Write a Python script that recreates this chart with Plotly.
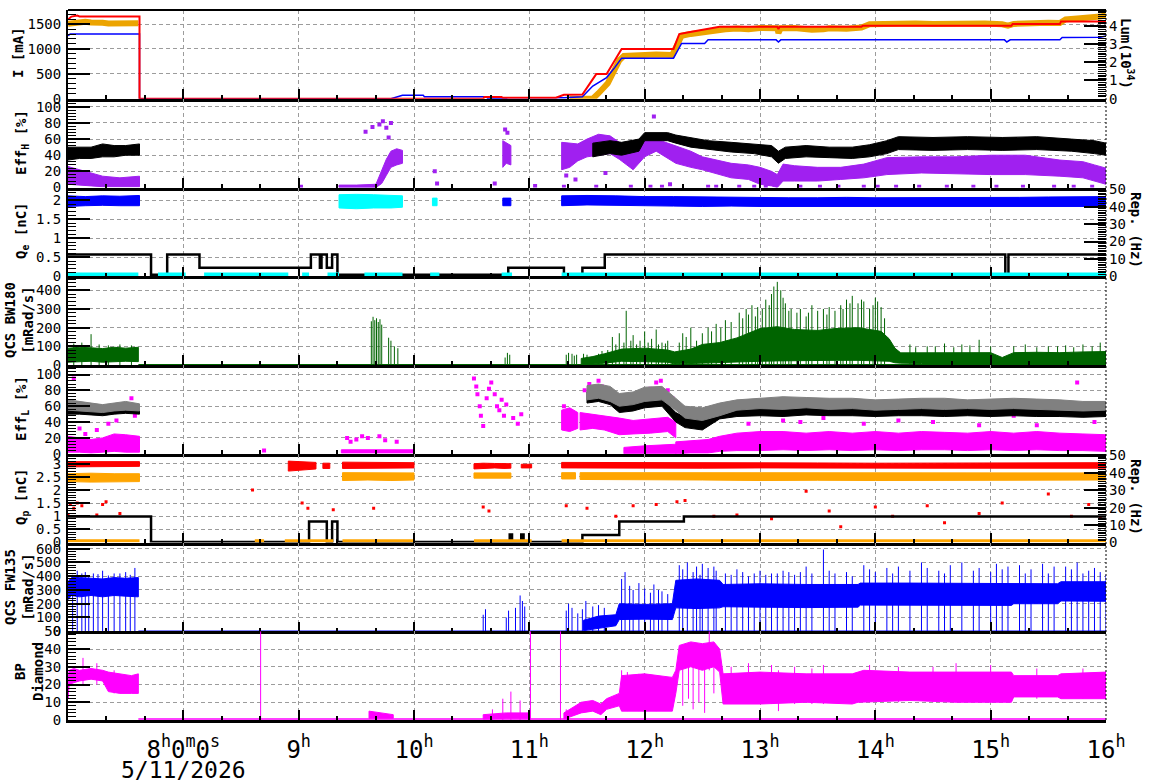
import plotly.graph_objects as go

# ---------------- DATA (time in decimal hours, 5/11/2026) ----------------
# Panel 1: beam currents [mA] and luminosity [1e34]
cur_red_t = [7.00, 7.03, 7.08, 7.10, 7.62, 7.62, 10.60, 10.61, 10.76, 10.77, 11.23, 11.30, 11.46, 11.58, 11.67, 11.80,
             12.25, 12.30, 12.37, 12.45, 12.52, 12.65, 13.15, 13.16, 13.17, 13.88, 13.89, 15.18, 15.19, 15.60, 15.61, 16.00]
cur_red_v = [1590, 1650, 1670, 1652, 1650, 0, 0, 34, 34, 20, 20, 80, 85, 495, 495, 1000,
             1000, 1300, 1330, 1365, 1400, 1445, 1445, 1400, 1445, 1445, 1466, 1466, 1500, 1500, 1553, 1553]
cur_blue_t = [7.00, 7.01, 7.02, 7.62, 7.62, 9.80, 9.90, 10.08, 10.09, 10.63, 10.64, 10.80, 10.81, 11.30, 11.46, 11.55,
              11.67, 11.74, 11.80, 12.25, 12.32, 12.52, 12.55, 13.14, 13.16, 13.18, 15.12, 15.14, 15.17, 15.60, 15.62,
              15.95, 16.00]
cur_blue_v = [1270, 1280, 1300, 1300, 0, 0, 68, 68, 40, 40, 0, 0, 20, 20, 40, 255,
              425, 625, 815, 815, 1110, 1110, 1183, 1183, 1140, 1183, 1183, 1140, 1183, 1183, 1230,
              1235, 1262]
lum_t = [7.00, 7.05, 7.10, 7.15, 7.20, 7.25, 7.30, 7.35, 7.40, 7.45, 7.50, 7.55, 7.61, None,
         11.35, 11.55, 11.60, 11.64, 11.68, 11.72, 11.75, 11.78, 11.82, 11.90, 12.00, 12.10, 12.24, 12.28, 12.32,
         12.40, 12.50, 12.60, 12.70, 12.80, 12.90, 13.00, 13.10, 13.15, 13.16, 13.18, 13.30, 13.45, 13.55, 13.60,
         13.75, 13.88, 13.95, 14.05, 14.20, 14.35, 14.50, 14.65, 14.80, 14.95, 15.10, 15.15, 15.20, 15.35, 15.50,
         15.60, 15.65, 15.75, 15.85, 15.95, 16.00]
lum_v = [4.10, 4.14, 4.20, 4.22, 4.18, 4.20, 4.16, 4.12, 4.13, 4.17, 4.15, 4.12, 4.13, None,
         0.0, 0.0, 0.30, 0.57, 0.85, 1.35, 1.75, 2.10, 2.35, 2.38, 2.40, 2.42, 2.40, 3.00, 3.45,
         3.55, 3.65, 3.72, 3.80, 3.85, 3.80, 3.87, 3.82, 3.86, 3.60, 3.86, 3.88, 3.78, 3.80, 3.86,
         3.84, 3.90, 4.08, 4.10, 4.14, 4.12, 4.10, 4.13, 4.10, 4.12, 4.08, 4.00, 4.10, 4.15, 4.16,
         4.15, 4.35, 4.40, 4.42, 4.50, 4.58]

# Panel 2: EffH [%]
effh_blk_t = [7.00, 7.10, 7.20, 7.30, 7.40, 7.50, 7.62, None,
              11.55, 11.70, 11.80, 11.95, 12.00, 12.20, 12.27, 12.40, 12.55, 12.75, 12.95, 13.10, 13.16, 13.22,
              13.40, 13.60, 13.80, 13.95, 14.10, 14.20, 14.50, 14.80, 15.10, 15.40, 15.70, 15.90, 16.00]
effh_blk_lo = [34, 36, 36, 38, 38, 40, 40, None,
               38, 42, 40, 45, 58, 58, 55, 50, 47, 44, 42, 38, 30, 36,
               38, 37, 36, 38, 42, 47, 46, 47, 46, 47, 45, 42, 40]
effh_blk_hi = [50, 50, 50, 54, 52, 52, 54, None,
               55, 58, 56, 60, 68, 68, 65, 62, 58, 56, 54, 52, 45, 50,
               52, 50, 50, 53, 58, 63, 62, 63, 62, 63, 60, 58, 55]
effh_pur_t = [7.00, 7.10, 7.20, 7.30, 7.45, 7.62, None,
              9.35, 9.50, 9.67, 9.72, 9.76, 9.80, 9.85, 9.90, None,
              10.77, 10.80, 10.84, None,
              11.28, 11.35, 11.42, 11.50, 11.60, 11.70, 11.78, 11.90, 12.00, 12.10, 12.27, 12.40, 12.50, 12.65,
              12.75, 12.90, 13.00, 13.10, 13.15, 13.20, 13.30, 13.50, 13.70, 13.90, 14.10, 14.40, 14.70, 15.00,
              15.30, 15.60, 15.80, 15.90, 16.00]
effh_pur_lo = [4, 3, 2, 1, 1, 1, None,
               0, 0, 0, 5, 15, 25, 28, 30, None,
               25, 30, 28, None,
               22, 25, 33, 38, 40, 42, 35, 22, 38, 45, 30, 25, 22, 16,
               12, 10, 4, 2, 0, 8, 8, 8, 10, 12, 16, 18, 17, 16,
               16, 14, 12, 8, 4]
effh_pur_hi = [26, 22, 18, 14, 12, 14, None,
               3, 3, 4, 20, 35, 45, 48, 46, None,
               58, 55, 52, None,
               56, 55, 54, 60, 66, 64, 56, 50, 58, 60, 52, 45, 38, 33,
               30, 28, 25, 20, 16, 29, 27, 25, 25, 29, 37, 38, 38, 40,
               40, 34, 32, 28, 24]
effh_pur_sc_t = [9.58, 9.64, 9.70, 9.73, 9.76, 9.78, 9.80, 10.18, 10.20, 10.70, 10.79, 10.81, 11.32, 11.40, 11.66,
                 12.08, 12.18, 12.22, 11.05, 9.02, 11.30, 11.58, 11.88, 12.05, 12.15, 12.55, 12.62, 12.82, 12.95,
                 13.05, 13.35, 13.52, 13.68, 13.90, 14.02, 14.18, 14.38, 14.62, 14.85, 15.05, 15.28, 15.55, 15.72,
                 15.88]
effh_pur_sc_v = [69, 75, 78, 82, 74, 62, 80, 20, 5, 5, 72, 68, 15, 10, 18,
                 88, 60, 4, 2, 1, 1, 1, 1, 1, 1, 1, 1, 1, 1,
                 1, 1, 1, 1, 1, 1, 1, 1, 1, 1, 1, 1, 1, 1,
                 1]

# Panel 3: Qe [nC] and repetition rate [Hz]
qe_blue_t = [7.00, 7.15, 7.30, 7.45, 7.62, None, 10.77, 10.84, None,
             11.28, 11.50, 11.75, 12.00, 12.25, 12.50, 12.75, 13.00, 13.25, 13.50, 13.75, 14.00, 14.25, 14.50,
             14.75, 15.00, 15.25, 15.50, 15.75, 16.00]
qe_blue_lo = [1.84, 1.86, 1.87, 1.86, 1.86, None, 1.86, 1.86, None,
              1.86, 1.88, 1.87, 1.86, 1.85, 1.84, 1.85, 1.84, 1.84, 1.83, 1.84, 1.83, 1.84, 1.84,
              1.83, 1.84, 1.84, 1.83, 1.84, 1.84]
qe_blue_hi = [2.12, 2.10, 2.12, 2.11, 2.13, None, 2.06, 2.06, None,
              2.12, 2.13, 2.12, 2.10, 2.10, 2.09, 2.08, 2.08, 2.07, 2.07, 2.08, 2.07, 2.07, 2.08,
              2.07, 2.08, 2.08, 2.09, 2.09, 2.10]
qe_cyan_t = [9.35, 9.50, 9.65, 9.80, 9.90, None, 10.16, 10.20]
qe_cyan_lo = [1.80, 1.78, 1.80, 1.80, 1.82, None, 1.86, 1.86]
qe_cyan_hi = [2.15, 2.16, 2.15, 2.14, 2.12, None, 2.06, 2.06]
# low-level cyan trace, read on the Rep. axis [Hz]
rep_cyan_t = [7.00, 7.61, None, 7.78, 8.02, None, 8.18, 8.91, None, 9.03, 9.09, None, 9.25, 9.35, None,
              9.57, 9.90, None, 10.14, 10.22, None, 10.76, 10.85, None, 11.28, 16.00]
rep_cyan_v = [1.0, 1.0, None, 1.0, 1.0, None, 1.0, 1.0, None, 1.0, 1.0, None, 1.0, 1.0, None,
              1.0, 1.0, None, 1.0, 1.0, None, 1.0, 1.0, None, 1.0, 1.0]
rep_e_t = [7.0, 7.72, 7.86, 8.14, 9.106, 9.184, 9.198, 9.244, 9.29, 9.336, 10.817, 11.3, 11.46, 11.654, 15.127,
           15.154, 16.0]
rep_e_v = [12.5, 0.8, 12.5, 4.9, 12.5, 4.9, 12.5, 4.9, 12.5, 0.8, 4.9, 0.8, 4.9, 12.5, 0.8,
           12.5, 12.5]

# Panel 4: QCS BW180 [mRad/s]
bw_t = [7.00, 7.10, 7.20, 7.30, 7.40, 7.50, 7.61, None,
        11.45, 11.55, 11.65, 11.80, 12.00, 12.20, 12.26, 12.40, 12.50, 12.65, 12.80, 12.90, 13.00, 13.15, 13.30,
        13.50, 13.65, 13.85, 14.05, 14.12, 14.17, 14.22, 14.40, 14.60, 14.80, 15.00, 15.10, 15.20, 15.40, 15.60,
        15.80, 16.00]
bw_lo = [15, 18, 20, 15, 18, 20, 18, None,
         2, 5, 10, 20, 18, 15, 5, 8, 10, 12, 15, 18, 20, 22, 25,
         25, 25, 25, 22, 20, 12, 10, 8, 8, 8, 8, 5, 8, 8, 8,
         8, 8]
bw_hi = [90, 95, 92, 88, 95, 90, 95, None,
         35, 45, 60, 85, 90, 80, 70, 85, 110, 120, 145, 170, 195, 205, 190,
         185, 195, 200, 180, 140, 90, 65, 65, 66, 68, 66, 40, 66, 68, 66,
         70, 72]
bw_sp_t = [7.05, 7.12, 7.20, 7.27, 7.35, 7.45, 7.55,
           9.63, 9.645, 9.66, 9.675, 9.69, 9.705, 9.72, 9.78, 9.80, 9.83, 9.86,
           10.79, 10.81, 10.83,
           11.32, 11.34, 11.37, 11.39, 11.41,
           11.47, 11.50, 11.55, 11.60, 11.63,
           11.72, 11.78, 11.84, 11.90, 11.96, 12.00, 12.06, 12.10, 12.15, 12.20,
           12.33, 12.40, 12.45,
           12.55, 12.62, 12.70, 12.75,
           12.82, 12.88, 12.93, 12.98,
           13.05, 13.10, 13.15, 13.18, 13.22, 13.27,
           13.35, 13.40, 13.45, 13.50, 13.60,
           13.70, 13.75, 13.80, 13.85, 13.90, 13.95, 14.00, 14.05,
           14.30, 14.45, 14.60, 14.75, 14.90, 15.00,
           15.30, 15.50, 15.65, 15.80, 15.95]
bw_sp_v = [115, 120, 165, 110, 105, 110, 105,
           234, 258, 240, 250, 230, 245, 216, 146, 130, 100, 90,
           40, 65, 55,
           55, 65, 60, 50, 55,
           60, 55, 45, 60, 75,
           150, 170, 290, 160, 130, 180, 140, 190, 120, 130,
           170, 200, 130,
           200, 220, 240, 230,
           280, 300, 320, 310,
           350, 380, 445, 400, 330, 300,
           300, 260, 320, 290, 310,
           320, 350, 370, 330, 340, 300, 360, 310,
           110, 100, 115, 110, 135, 100,
           110, 100, 105, 110, 120]
bw_sp2_t = [11.68, 11.75, 11.82, 11.88, 11.93, 12.03, 12.12, 12.18, 12.30, 12.36, 12.50, 12.58, 12.66, 12.85,
            12.90, 12.96, 13.02, 13.08, 13.12, 13.20, 13.25, 13.32, 13.42, 13.55, 13.58, 13.65, 13.72, 13.78,
            13.88, 13.98, 14.02, 14.08, 14.35, 14.52, 14.68, 14.82, 15.20, 15.40, 15.58, 15.72, 15.88]
bw_sp2_v = [80, 110, 120, 130, 110, 120, 110, 115, 120, 150, 170, 180, 200, 250,
            270, 260, 300, 320, 420, 360, 290, 280, 280, 300, 270, 290, 300, 330,
            350, 320, 340, 250, 95, 100, 95, 105, 100, 95, 100, 95, 100]
bw_base_t = [7.61, 16.0]
bw_base_v = [0, 0]

# Panel 5: EffL [%]
effl_t = [7.00, 7.10, 7.20, 7.30, 7.40, 7.50, 7.62, None,
          11.50, 11.60, 11.70, 11.78, 11.90, 12.00, 12.15, 12.27, 12.35, 12.50, 12.65, 12.80, 13.00, 13.20,
          13.40, 13.60, 13.80, 14.00, 14.20, 14.40, 14.60, 14.80, 15.00, 15.20, 15.40, 15.60, 15.80, 16.00]
effl_gry_lo = [55, 54, 53, 52, 54, 55, 54, None,
               68, 70, 66, 60, 62, 66, 68, 55, 45, 42, 48, 55, 57, 56,
               58, 56, 57, 55, 56, 57, 56, 57, 56, 57, 56, 55, 54, 55]
effl_gry_hi = [68, 66, 64, 62, 64, 66, 63, None,
               86, 88, 85, 76, 78, 84, 85, 70, 60, 58, 64, 68, 70, 72,
               71, 70, 70, 68, 69, 70, 70, 68, 69, 70, 69, 68, 66, 66]
effl_blk_lo = [50, 50, 49, 48, 50, 51, 50, None,
               64, 66, 62, 52, 54, 58, 60, 40, 33, 30, 44, 47, 48, 47,
               49, 48, 48, 47, 48, 48, 47, 48, 47, 48, 47, 47, 46, 47]
effl_blk_hi = [58, 58, 57, 56, 58, 60, 58, None,
               78, 80, 76, 64, 66, 70, 70, 52, 46, 44, 56, 58, 60, 59,
               61, 60, 60, 59, 60, 60, 59, 60, 59, 60, 59, 58, 57, 58]
effl_mag_t = [7.00, 7.10, 7.20, 7.30, 7.40, 7.50, 7.62, None,
              9.37, 9.60, 9.80, 10.00, None,
              11.28, 11.35, 11.42, None,
              11.44, 11.55, 11.65, 11.78, 11.90, 12.05, 12.20, 12.27, None,
              11.82, 12.00, 12.27, None,
              12.27, 12.40, 12.55, 12.65, 12.80, 13.00, 13.20, 13.40, 13.60, 13.80, 14.00, 14.20, 14.40, 14.60,
              14.80, 15.00, 15.20, 15.40, 15.60, 15.80, 16.00]
effl_mag_lo = [2, 2, 1, 2, 3, 2, 2, None,
               1, 1, 1, 1, None,
               30, 28, 32, None,
               30, 32, 30, 24, 25, 26, 28, 20, None,
               0, 0, 0, None,
               0, 1, 1, 3, 4, 4, 5, 4, 5, 4, 5, 4, 5, 5,
               4, 5, 4, 5, 4, 4, 3]
effl_mag_hi = [22, 20, 18, 20, 25, 24, 22, None,
               5, 5, 5, 5, None,
               55, 58, 52, None,
               52, 50, 48, 45, 42, 44, 46, 40, None,
               8, 10, 12, None,
               15, 16, 18, 22, 26, 28, 28, 26, 28, 26, 28, 26, 28, 27,
               26, 28, 26, 28, 26, 25, 24]
effl_mag_sc_t = [7.05, 7.10, 7.15, 7.25, 7.35, 7.42, 7.55, 7.58, 8.70,
                 9.42, 9.45, 9.50, 9.55, 9.60, 9.70, 9.75, 9.85,
                 10.52, 10.54, 10.55, 10.57, 10.58, 10.60, 10.63, 10.65, 10.67, 10.70, 10.72, 10.74, 10.76, 10.78,
                 10.80, 10.86, 10.90, 10.93,
                 11.30, 11.33, 11.38,
                 11.48, 11.52, 11.56, 11.60, 11.63, 11.66, 11.70,
                 12.00, 12.05, 12.10, 12.14, 12.20, 12.24,
                 12.60, 12.90, 13.20, 13.35, 13.55, 13.90, 14.20, 14.50, 14.90, 15.20, 15.40, 15.75, 15.90]
effl_mag_sc_v = [95, 32, 25, 30, 38, 42, 70, 48, 4,
                 20, 15, 18, 22, 20, 22, 17, 15,
                 95, 85, 75, 60, 48, 35, 70, 82, 90, 75, 60, 55, 68, 48,
                 62, 45, 38, 50,
                 60, 52, 45,
                 80, 88, 75, 92, 85, 78, 65,
                 70, 82, 90, 92, 80, 70,
                 45, 38, 42, 40, 45, 38, 42, 40, 36, 48, 36, 90, 40]

# Panel 6: Qp [nC] and repetition rate [Hz]
qp_red_t = [7.00, 7.20, 7.40, 7.62, None, 8.91, 9.00, 9.10, 9.15, None, 9.21, 9.27, None,
            9.38, 9.60, 9.80, 10.00, None, 10.52, 10.60, 10.70, 10.78, 10.84, None, 10.93, 11.02, None,
            11.28, 11.40, 11.60, 11.80, 12.00, 12.50, 13.00, 13.50, 14.00, 14.50, 15.00, 15.50, 16.00]
qp_red_lo = [2.88, 2.90, 2.89, 2.90, None, 2.72, 2.75, 2.78, 2.80, None, 2.82, 2.82, None,
             2.82, 2.84, 2.83, 2.84, None, 2.80, 2.82, 2.84, 2.82, 2.83, None, 2.84, 2.84, None,
             2.84, 2.84, 2.85, 2.84, 2.84, 2.83, 2.84, 2.83, 2.84, 2.83, 2.83, 2.84, 2.83]
qp_red_hi = [3.08, 3.08, 3.07, 3.08, None, 3.10, 3.08, 3.06, 3.05, None, 3.02, 3.02, None,
             3.06, 3.05, 3.05, 3.04, None, 3.00, 3.02, 3.01, 3.02, 3.00, None, 2.98, 2.98, None,
             3.05, 3.05, 3.04, 3.04, 3.03, 3.03, 3.04, 3.03, 3.02, 3.03, 3.03, 3.04, 3.04]
qp_org_t = [7.00, 7.20, 7.40, 7.62, None, 9.38, 9.60, 9.80, 10.00, None, 10.52, 10.84, None, 11.28, 11.40, None,
            11.44, 11.70, 12.00, 12.50, 13.00, 13.50, 14.00, 14.50, 15.00, 15.50, 16.00]
qp_org_lo = [2.32, 2.30, 2.30, 2.32, None, 2.36, 2.38, 2.36, 2.38, None, 2.45, 2.45, None, 2.42, 2.42, None,
             2.40, 2.40, 2.38, 2.38, 2.36, 2.37, 2.36, 2.37, 2.36, 2.37, 2.38]
qp_org_hi = [2.62, 2.64, 2.62, 2.62, None, 2.66, 2.66, 2.65, 2.65, None, 2.65, 2.65, None, 2.66, 2.66, None,
             2.66, 2.66, 2.65, 2.64, 2.64, 2.65, 2.64, 2.64, 2.65, 2.64, 2.65]
# low-level orange trace, read on the Rep. axis [Hz]
rep_org_t = [7.00, 7.62, None, 8.62, 8.70, None, 8.88, 9.30, None, 9.38, 10.00, None, 10.52, 11.02, None, 11.28, 16.00]
rep_org_v = [1.0, 1.0, None, 1.0, 1.0, None, 1.0, 1.0, None, 1.0, 1.0, None, 1.0, 1.0, None, 1.0, 1.0]
qp_rsc_t = [7.00, 7.02, 7.05, 7.08, 7.12, 7.25, 7.30, 7.33, 7.45, 8.60, 9.03, 9.08, 9.30, 9.65, 10.60, 10.65,
            11.32, 11.50, 11.75, 11.90, 12.10, 12.28, 12.35, 12.60, 12.80, 13.10, 13.40, 13.60, 13.70, 14.00,
            14.15, 14.45, 14.60, 14.90, 15.10, 15.50, 15.70, 15.85, 15.95]
qp_rsc_v = [1.05, 1.45, 1.30, 1.50, 1.40, 1.05, 1.45, 1.55, 1.10, 2.00, 1.50, 1.30, 1.25, 1.30, 1.35, 1.20,
            1.40, 1.30, 1.00, 1.40, 1.45, 1.55, 1.60, 1.00, 1.05, 0.90, 1.95, 1.20, 0.60, 1.35,
            1.00, 1.40, 0.75, 1.10, 1.50, 1.85, 1.00, 1.45, 0.95]
rep_p_t = [7.0, 7.72, 9.09, 9.244, 9.29, 9.336, 10.83, 10.85, 10.93, 10.95, 11.46, 11.78, 12.34, 16.0]
rep_p_v = [15, 0.3, 12, 0.3, 12, 0.3, 4.6, 0.3, 4.6, 0.3, 4.3, 12, 15, 15]

# Panel 7: QCS FW135 [mRad/s]
fw_t = [7.00, 7.03, 7.10, 7.20, 7.30, 7.40, 7.50, 7.61, None,
        11.47, 11.60, 11.75, 11.78, 12.00, 12.24, 12.27, 12.45, 12.65, 12.68, 13.00, 13.40, 13.85, 13.87, 14.30,
        14.80, 15.18, 15.20, 15.58, 15.61, 16.00]
fw_lo = [230, 260, 250, 260, 250, 260, 255, 250, None,
         5, 20, 40, 85, 88, 85, 170, 165, 170, 178, 175, 172, 175, 190, 188,
         190, 188, 200, 200, 220, 218]
fw_hi = [360, 390, 390, 385, 380, 390, 385, 390, None,
         80, 110, 120, 200, 195, 200, 370, 380, 370, 340, 345, 340, 340, 350, 350,
         350, 350, 345, 345, 360, 360]
fw_sp_t = [7.08, 7.15, 7.22, 7.30, 7.40, 7.50, 7.58,
           10.60, 10.62, 10.80, 10.82, 10.88, 10.92, 10.94, 10.96,
           11.32, 11.34, 11.37, 11.42, 11.46,
           11.49, 11.55, 11.60, 11.65,
           11.80, 11.83, 11.87, 11.95, 12.00, 12.08, 12.15, 12.20,
           12.30, 12.37, 12.45, 12.50, 12.55, 12.60,
           12.70, 12.80, 12.90, 13.00, 13.10, 13.25, 13.40, 13.55, 13.60, 13.75,
           13.90, 14.00, 14.20, 14.40, 14.55, 14.75, 14.90, 15.05,
           15.25, 15.35, 15.45,
           15.65, 15.75, 15.85, 15.95]
fw_sp_v = [440, 430, 420, 440, 420, 430, 460,
           120, 160, 100, 150, 170, 260, 220, 180,
           150, 200, 170, 130, 160,
           220, 180, 190, 170,
           380, 430, 330, 350, 310, 340, 290, 270,
           480, 500, 470, 490, 460, 470,
           420, 450, 400, 440, 420, 430, 470, 594, 440, 430,
           480, 430, 470, 500, 440, 500, 460, 490,
           480, 450, 490,
           470, 500, 440, 430]
fw_sp2_t = [7.04, 7.12, 7.18, 7.26, 7.35, 7.45, 7.54, 11.90, 12.05, 12.12, 12.33, 12.42, 12.48, 12.62, 12.75,
            12.85, 12.95, 13.05, 13.15, 13.20, 13.30, 13.35, 13.45, 13.65, 13.80, 13.95, 14.10, 14.15, 14.30,
            14.45, 14.60, 14.65, 14.85, 15.00, 15.10, 15.15, 15.30, 15.50, 15.55, 15.70, 15.80, 15.90, 16.00]
fw_sp2_v = [410, 420, 400, 415, 405, 420, 410, 300, 280, 300, 450, 430, 410, 440, 410,
            430, 420, 410, 420, 440, 410, 430, 420, 420, 400, 450, 460, 420, 440,
            460, 420, 480, 440, 430, 450, 470, 420, 420, 470, 450, 420, 460, 410]
fw_base_t = [7.61, 16.0]
fw_base_v = [0, 0]

# Panel 8: BP Diamond
bp_t = [7.00, 7.01, 7.05, 7.10, 7.20, 7.30, 7.35, 7.45, 7.55, 7.61, None,
        9.61, 9.70, 9.82, None,
        10.60, 10.80, 11.00, None,
        11.30, 11.45, 11.55, 11.62, 11.67, 11.78, 11.80, 12.00, 12.24, 12.27, 12.30, 12.40, 12.50, 12.60,
        12.65, 12.68, 13.00, 13.40, 13.80, 13.85, 13.90, 14.30, 14.70, 15.18, 15.20, 15.58, 15.61, 16.00]
bp_lo = [12, 20, 21, 22, 23, 22, 16, 15, 15, 15, None,
         1, 1, 1, None,
         0.5, 1, 1, None,
         0.5, 4, 5, 3, 6, 8, 5, 5, 5, 15, 28, 30, 28, 30,
         27, 9, 9, 10, 9, 10, 10, 11, 10, 10, 13, 13, 12, 12]
bp_hi = [22, 28, 29, 28, 29, 28, 27, 26, 25, 26, None,
         5, 4, 3, None,
         3, 4, 4, None,
         4, 10, 11, 9, 12, 15, 25, 26, 24, 28, 42, 44, 43, 44,
         40, 26, 27, 26, 26, 27, 28, 27, 27, 27, 25, 25, 26, 27]
bp_sp_t = [7.13, 7.25, 7.40, 8.67, 10.68, 10.77, 10.84, 10.92, 11.01, 11.27, 11.32,
           11.80, 11.85, 11.95, 12.10, 12.33, 12.38, 12.42, 12.47, 12.52, 12.56, 12.60,
           12.75, 12.90, 13.10, 13.16, 13.30, 13.45, 13.55, 13.95, 14.20, 14.50, 14.70, 15.00, 15.40, 15.80]
bp_sp_lo = [20, 20, 15, 0, 0, 0, 0, 0, 0, 0, 0,
            5, 5, 5, 5, 8, 12, 6, 10, 4, 28, 15,
            9, 9, 9, 5, 9, 9, 9, 10, 10, 10, 10, 10, 12, 12]
bp_sp_hi = [35, 32, 28, 50, 6, 12, 16, 11, 50, 50, 6,
            28, 27, 26, 25, 30, 30, 30, 30, 30, 50, 30,
            30, 32, 31, 28, 30, 29, 31, 31, 30, 30, 32, 31, 29, 29]
bp_base_t = [7.61, 16.0]
bp_base_v = [0.5, 0.5]

# Axis tick labels
hour_ticks = [7, 8, 9, 10, 11, 12, 13, 14, 15, 16]
hour_text = ["", "8<sup>h</sup>0<sup>m</sup>0<sup>s</sup>", "9<sup>h</sup>", "10<sup>h</sup>", "11<sup>h</sup>",
             "12<sup>h</sup>", "13<sup>h</sup>", "14<sup>h</sup>", "15<sup>h</sup>", "16<sup>h</sup>"]
date_label = "5/11/2026"

# ---------------- helpers ----------------
def band_xy(t, lo, hi):
    xs, ys, seg = [], [], []
    for a, b, c in zip(list(t) + [None], list(lo) + [None], list(hi) + [None]):
        if a is None:
            if seg:
                st = [s[0] for s in seg]
                sl = [s[1] for s in seg]
                sh = [s[2] for s in seg]
                xs += st + st[::-1] + [st[0], None]
                ys += sh + sl[::-1] + [sh[0], None]
            seg = []
        else:
            seg.append((a, b, c))
    return xs, ys


def spikes_xy(t, y0, y1):
    xs, ys = [], []
    for a, b, c in zip(t, y0, y1):
        xs += [a, a, None]
        ys += [b, c, None]
    return xs, ys


fig = go.Figure()


def ax(n):
    return ('x' if n == 1 else f'x{n}'), ('y' if n == 1 else f'y{n}')


def add_band(n, t, lo, hi, color, yaxis=None):
    xs, ys = band_xy(t, lo, hi)
    xa, ya = ax(n)
    fig.add_trace(go.Scatter(x=xs, y=ys, mode='lines', fill='toself', fillcolor=color,
                             line=dict(color=color, width=1), xaxis=xa, yaxis=yaxis or ya,
                             hoverinfo='skip', showlegend=False))


def add_line(n, t, v, color, width, shape='linear', yaxis=None, opacity=1.0):
    xa, ya = ax(n)
    fig.add_trace(go.Scatter(x=t, y=v, mode='lines', line=dict(color=color, width=width, shape=shape),
                             xaxis=xa, yaxis=yaxis or ya, showlegend=False, connectgaps=False,
                             opacity=opacity))


def add_spikes(n, t, y0, y1, color, width=1):
    xs, ys = spikes_xy(t, y0, y1)
    add_line(n, xs, ys, color, width)


def add_pts(n, t, v, color, size=4):
    xa, ya = ax(n)
    fig.add_trace(go.Scatter(x=t, y=v, mode='markers', marker=dict(color=color, size=size, symbol='square'),
                             xaxis=xa, yaxis=ya, showlegend=False))


RED, ORG1, ORG2 = '#ff0000', '#eca400', '#ffa500'
PUR, BLUE, CYAN = '#a020f0', '#0000ff', '#00ffff'
GREEN, MAG, GRAY = '#006400', '#ff00ff', '#808080'

Y1_TOP, LUM_TOP = 1782, 4.86   # shared vertical extent of current and luminosity scales

# Panel 1: luminosity drawn on the current scale (mapped by the ratio of the two axis ranges),
# so the currents can be drawn on top of it; the right axis carries the luminosity ticks.
lum_on_y1 = [None if v is None else v * Y1_TOP / LUM_TOP for v in lum_v]
add_line(1, lum_t, lum_on_y1, ORG1, 6)
add_line(1, lum_t, lum_v, ORG1, 1, yaxis='y9', opacity=0)
add_line(1, cur_blue_t, cur_blue_v, BLUE, 1.5)
add_line(1, cur_red_t, cur_red_v, RED, 2)
# Panel 2
add_band(2, effh_pur_t, effh_pur_lo, effh_pur_hi, PUR)
add_pts(2, effh_pur_sc_t, effh_pur_sc_v, PUR)
add_band(2, effh_blk_t, effh_blk_lo, effh_blk_hi, 'black')
# Panel 3
add_band(3, qe_blue_t, qe_blue_lo, qe_blue_hi, BLUE)
add_band(3, qe_cyan_t, qe_cyan_lo, qe_cyan_hi, CYAN)
add_line(3, rep_e_t, rep_e_v, 'black', 2.5, shape='hv', yaxis='y10')
add_line(3, rep_cyan_t, rep_cyan_v, CYAN, 4, yaxis='y10')
# Panel 4
add_line(4, bw_base_t, bw_base_v, GREEN, 2)
add_spikes(4, bw_sp_t, [0] * len(bw_sp_t), bw_sp_v, GREEN)
add_spikes(4, bw_sp2_t, [0] * len(bw_sp2_t), bw_sp2_v, GREEN)
add_band(4, bw_t, bw_lo, bw_hi, GREEN)
# Panel 5
add_band(5, effl_mag_t, effl_mag_lo, effl_mag_hi, MAG)
add_pts(5, effl_mag_sc_t, effl_mag_sc_v, MAG)
add_band(5, effl_t, effl_blk_lo, effl_blk_hi, 'black')
add_band(5, effl_t, effl_gry_lo, effl_gry_hi, GRAY)
# Panel 6
add_band(6, qp_org_t, qp_org_lo, qp_org_hi, ORG2)
add_band(6, qp_red_t, qp_red_lo, qp_red_hi, RED)
add_pts(6, qp_rsc_t, qp_rsc_v, RED, 3)
add_line(6, rep_p_t, rep_p_v, 'black', 2.5, shape='hv', yaxis='y11')
add_line(6, rep_org_t, rep_org_v, ORG2, 3, yaxis='y11')
# Panel 7
add_line(7, fw_base_t, fw_base_v, BLUE, 1.5)
add_spikes(7, fw_sp_t, [0] * len(fw_sp_t), fw_sp_v, BLUE)
add_spikes(7, fw_sp2_t, [0] * len(fw_sp2_t), fw_sp2_v, BLUE)
add_band(7, fw_t, fw_lo, fw_hi, BLUE)
# Panel 8
add_line(8, bp_base_t, bp_base_v, MAG, 1.5)
add_spikes(8, bp_sp_t, bp_sp_lo, bp_sp_hi, MAG)
add_band(8, bp_t, bp_lo, bp_hi, MAG)

# ---------------- layout ----------------
W, H = 1172, 782
ML, MR, MT, MB = 68, 66, 10, 62
PW, PH = W - ML - MR, H - MT - MB
MONO = 'DejaVu Sans Mono'
GRID = dict(showgrid=True, gridcolor='#9c9c9c', gridwidth=1, griddash='4px,3px')

yspec = [  # range top, major, minor
    (Y1_TOP, 500, 100), (110, 20, 4), (2.34, 0.5, 0.1), (475, 100, 20),
    (112, 20, 4), (3.38, 0.5, 0.1), (645, 100, 20), (50, 10, 2)]

lay = dict(width=W, height=H, margin=dict(l=ML, r=MR, t=MT, b=MB, autoexpand=False), plot_bgcolor='white',
           paper_bgcolor='white', showlegend=False, font=dict(family=MONO, color='black'))
for i in range(8):
    n = i + 1
    key = '' if n == 1 else str(n)
    top, dmaj, dmin = yspec[i]
    d0, d1 = 1 - (i + 1) / 8, 1 - i / 8
    lay['xaxis' + key] = dict(
        domain=[0, 1], anchor='y' + key if n > 1 else 'y', range=[7, 16], automargin=False,
        tickmode='array', tickvals=hour_ticks, ticktext=hour_text, showticklabels=(n == 8),
        ticks='inside', ticklen=10, tickwidth=2, tickcolor='black',
        minor=dict(tickmode='linear', tick0=7, dtick=1 / 3, ticks='inside', ticklen=4, tickwidth=1.5,
                   tickcolor='black', showgrid=False),
        showline=True, linecolor='black', linewidth=2.5, zeroline=False,
        tickfont=dict(family=MONO, size=24), ticklabelstandoff=6, **GRID)
    if n > 1:
        lay['xaxis' + key]['matches'] = 'x'
    lay['yaxis' + key] = dict(
        domain=[d0, d1], anchor='x' + key if n > 1 else 'x', range=[0, top], automargin=False,
        tickmode='linear', tick0=0, dtick=dmaj, exponentformat='none',
        ticks='inside', ticklen=22, tickwidth=2, tickcolor='black',
        minor=dict(tickmode='linear', tick0=0, dtick=dmin, ticks='inside', ticklen=8, tickwidth=1.3,
                   tickcolor='black', showgrid=False),
        showline=True, linecolor='black', linewidth=2, zeroline=False,
        tickfont=dict(family=MONO, size=14), ticklabelstandoff=2, **GRID)

rspec = {9: ('y', 'x', LUM_TOP, 1, 0.1), 10: ('y3', 'x3', 51.2, 10, 1), 11: ('y6', 'x6', 51.0, 10, 1)}
for n, (ov, anc, top, dmaj, dmin) in rspec.items():
    lay[f'yaxis{n}'] = dict(
        overlaying=ov, anchor=anc, side='right', range=[0, top], tickmode='linear', tick0=0, dtick=dmaj,
        automargin=False,
        ticks='inside', ticklen=22, tickwidth=2, tickcolor='black',
        minor=dict(tickmode='linear', tick0=0, dtick=dmin, ticks='inside', ticklen=8, tickwidth=1.2,
                   tickcolor='black', showgrid=False),
        showline=False, showgrid=False, zeroline=False,
        tickfont=dict(family=MONO, size=14), ticklabelstandoff=2)

fig.update_layout(**lay)


def px(xp):
    return (xp - ML) / PW


def py(yp):
    return (H - MB - yp) / PH


titles = [("I [mA]", 18, 53), ("Eff<sub>H</sub> [%]", 22, 143), ("Q<sub>e</sub> [nC]", 22, 231),
          ("QCS BW180<br>[mRad/s]", 19, 320), ("Eff<sub>L</sub> [%]", 22, 409), ("Q<sub>p</sub> [nC]", 22, 497),
          ("QCS FW135<br>[mRad/s]", 19, 587), ("BP<br>Diamond", 29, 672)]
for txt, xp, yp in titles:
    fig.add_annotation(text=txt, x=px(xp), y=py(yp), xref='paper', yref='paper', showarrow=False,
                       textangle=-90, xanchor='center', yanchor='middle',
                       font=dict(family=MONO, size=14, weight='bold', color='black'))
for txt, xp, yp in [("Lum(10<sup>34</sup>)", 1127, 53), ("Rep. (Hz)", 1136, 230), ("Rep. (Hz)", 1136, 497)]:
    fig.add_annotation(text=txt, x=px(xp), y=py(yp), xref='paper', yref='paper', showarrow=False,
                       textangle=90, xanchor='center', yanchor='middle',
                       font=dict(family=MONO, size=14, weight='bold', color='black'))
fig.add_annotation(text=date_label, x=8, xref='x8', y=py(770), yref='paper', showarrow=False,
                   xanchor='center', yanchor='middle', font=dict(family=MONO, size=23, color='black'))

# frame: solid top edge, dotted right edge
fig.add_shape(type='line', xref='paper', yref='paper', x0=0, x1=1, y0=1, y1=1,
              line=dict(color='black', width=2))
fig.add_shape(type='line', xref='paper', yref='paper', x0=1, x1=1, y0=0, y1=1,
              line=dict(color='black', width=1, dash='2px,2px'))

fig.write_html("out.html")
